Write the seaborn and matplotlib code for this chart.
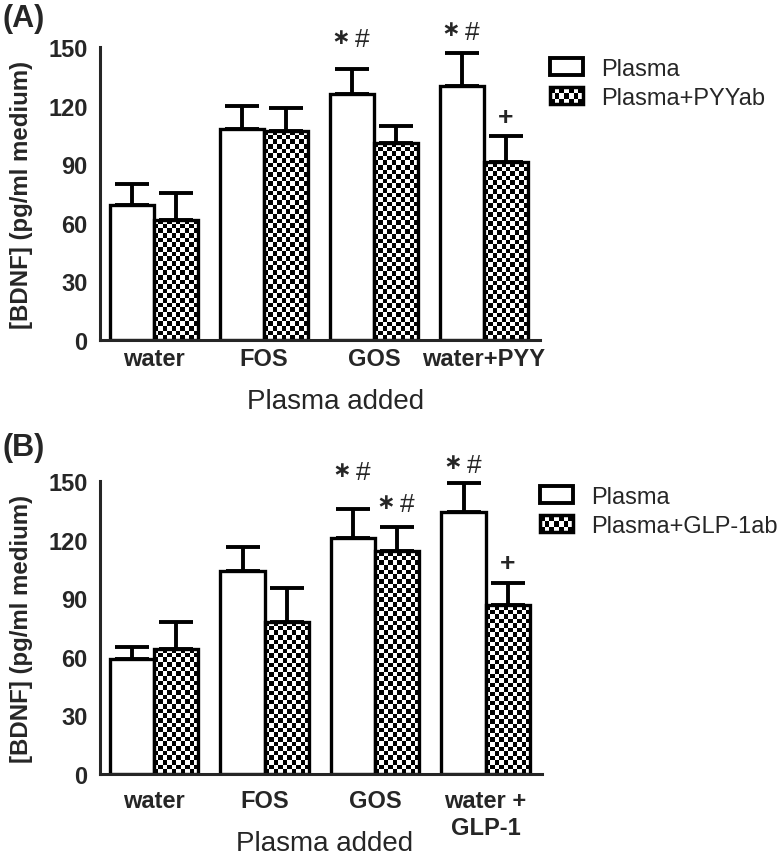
import numpy as np
import pandas as pd
import matplotlib
matplotlib.use("Agg")
import matplotlib.pyplot as plt
import seaborn as sns
from matplotlib.patches import Rectangle, Patch
from matplotlib.legend_handler import HandlerBase

# ---------------- data ----------------
groups_a = ["water", "FOS", "GOS", "water+PYY"]
plasma_a = [69, 108, 126, 130]
plasma_a_err = [11, 12, 12.5, 17]
pyy_a = [61.5, 107, 101, 91]
pyy_a_err = [14, 12, 8.5, 13.5]
series_a = ["Plasma", "Plasma+PYYab"]
annot_a = [(2, 0, "* #", 155), (3, 0, "* #", 159), (3, 1, "+", 114)]

groups_b = ["water", "FOS", "GOS", "water +\nGLP-1"]
plasma_b = [59, 104, 121, 134]
plasma_b_err = [6, 12, 14.5, 15]
glp_b = [64, 78, 114, 86.5]
glp_b_err = [14, 17, 12.5, 11.5]
series_b = ["Plasma", "Plasma+GLP-1ab"]
annot_b = [(2, 0, "* #", 155.5), (2, 1, "* #", 139.5), (3, 0, "* #", 159.5), (3, 1, "+", 108)]

yticks = [0, 30, 60, 90, 120, 150]
ylabel = "[BDNF] (pg/ml medium)"
xlabel = "Plasma added"

sns.set_style("white")
plt.rcParams["font.family"] = ["Liberation Sans", "DejaVu Sans"]

W, H = 784, 862
fig = plt.figure(figsize=(W / 100, H / 100), dpi=100)


class CheckerHandler(HandlerBase):
    def create_artists(self, legend, orig_handle, xdescent, ydescent,
                       width, height, fontsize, trans):
        x0, y0 = -xdescent, -ydescent
        arts = [Rectangle((x0, y0), width, height, facecolor="black",
                          edgecolor="black", lw=2, transform=trans)]
        nx, ny = 7, 3
        cw, ch = width / nx, height / ny
        for i in range(nx):
            for j in range(ny):
                if (i + j) % 2 == 1:
                    arts.append(Rectangle((x0 + i * cw, y0 + j * ch), cw, ch,
                                          facecolor="white", edgecolor="none",
                                          transform=trans))
        arts.append(Rectangle((x0, y0), width, height, facecolor="none",
                              edgecolor="black", lw=2.5, transform=trans))
        return arts


def panel(rect_px, groups, v1, e1, v2, e2, names, annots, label, lab_y,
          xpad, legend_xy, xlab_xy):
    l, b, r, t = rect_px
    ax = fig.add_axes([l / W, 1 - b / H, (r - l) / W, (b - t) / H])
    df = pd.DataFrame({
        "group": groups * 2,
        "value": list(v1) + list(v2),
        "series": [names[0]] * len(groups) + [names[1]] * len(groups),
    })
    sns.barplot(data=df, x="group", y="value", hue="series", order=groups,
                hue_order=names, palette=["white", "white"], saturation=1,
                edgecolor="black", linewidth=2.4, errorbar=None, legend=False,
                width=0.8, ax=ax)
    xlim = (-0.49, 3.51)
    ylim = (0, 150)
    ax.set_xlim(*xlim)
    ax.set_ylim(*ylim)

    # checkerboard fill for second series
    axw = (r - l)
    axh = (b - t)
    px_x = axw / (xlim[1] - xlim[0])
    px_y = axh / (ylim[1] - ylim[0])
    cell = 4.6
    for bar in ax.containers[1]:
        x, y0 = bar.get_x(), bar.get_y()
        w, h = bar.get_width(), bar.get_height()
        nx = max(1, int(round(w * px_x / cell)))
        ny = max(1, int(round(h * px_y / cell)))
        arr = np.add.outer(np.arange(ny), np.arange(nx)) % 2
        im = ax.imshow(arr, extent=(x, x + w, y0, y0 + h), cmap="gray",
                       vmin=0, vmax=1, interpolation="nearest", resample=False,
                       aspect="auto", origin="lower", zorder=1.5)
        im.set_clip_path(bar)
        bar.set_facecolor("none")
        bar.set_zorder(2)
    ax.set_xlim(*xlim)
    ax.set_ylim(*ylim)

    # error bars (upper only)
    for cont, vals, errs in [(ax.containers[0], v1, e1), (ax.containers[1], v2, e2)]:
        xs = [p.get_x() + p.get_width() / 2 for p in cont]
        ax.errorbar(xs, vals, yerr=[np.zeros(len(errs)), errs], fmt="none",
                    ecolor="black", elinewidth=2.8, capsize=12, capthick=2.8,
                    zorder=1.8)

    # annotations
    for gi, si, txt, yv in annots:
        p = ax.containers[si][gi]
        xc = p.get_x() + p.get_width() / 2
        if txt == "+":
            ax.text(xc, yv, "+", ha="center", va="center", fontsize=19,
                    fontweight="bold", clip_on=False)
        else:
            star, hsh = txt.split()
            ax.annotate("\u2217", (xc, yv), xytext=(-8, 0),
                        textcoords="offset points", ha="center", va="center",
                        fontsize=16, fontweight="bold",
                        family=["DejaVu Sans"], annotation_clip=False)
            ax.annotate(hsh, (xc, yv), xytext=(7.5, -1.5),
                        textcoords="offset points", ha="center", va="center",
                        fontsize=19, annotation_clip=False)

    sns.despine(ax=ax)
    for s in ["left", "bottom"]:
        ax.spines[s].set_linewidth(2.2)
    ax.set_yticks(yticks)
    ax.tick_params(axis="y", length=7, width=2.2, pad=2, labelsize=17)
    ax.tick_params(axis="x", length=0, pad=xpad, labelsize=17)
    for tl in ax.get_yticklabels() + ax.get_xticklabels():
        tl.set_fontweight("bold")
    ax.set_ylabel(ylabel, fontsize=17.3, fontweight="bold")
    ax.yaxis.set_label_coords(-0.152, 0.5)
    ax.set_xlabel(xlabel, fontsize=20)
    ax.xaxis.set_label_coords(*xlab_xy)
    ax.xaxis.label.set_va("center")

    checker = Patch(facecolor="black", edgecolor="black")
    handles = [Patch(facecolor="white", edgecolor="black", linewidth=2.8), checker]
    fig.legend(handles, names, loc="upper left",
               bbox_to_anchor=(legend_xy[0] / W, 1 - legend_xy[1] / H),
               frameon=False, fontsize=17, handlelength=1.4, handleheight=0.72,
               handletextpad=0.75, labelspacing=0.3, borderpad=0,
               borderaxespad=0, handler_map={checker: CheckerHandler()})
    fig.text(2 / W, 1 - lab_y / H, label, fontsize=22, fontweight="bold",
             ha="left", va="center")
    return ax


panel((100, 341, 540, 48), groups_a, plasma_a, plasma_a_err, pyy_a, pyy_a_err,
      series_a, annot_a, "(A)", 19, 5, (550, 59), (0.536, -0.208))
panel((100, 775, 542, 482), groups_b, plasma_b, plasma_b_err, glp_b, glp_b_err,
      series_b, annot_b, "(B)", 448, 11, (540, 487), (0.507, -0.235))

fig.savefig("out.png", dpi=100)
